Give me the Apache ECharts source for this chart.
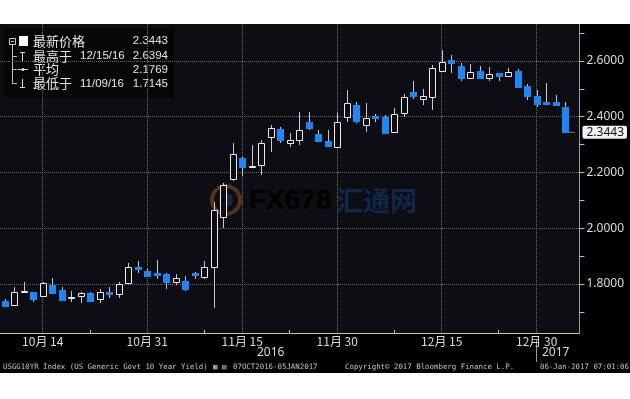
<!DOCTYPE html>
<html><head><meta charset="utf-8">
<script src="https://cdn.jsdelivr.net/npm/echarts@6/dist/echarts.min.js"></script>
<style>html,body{margin:0;padding:0;background:#fff}#c{width:630px;height:399px}</style>
</head><body><div id="c"></div>
<script>
// ---- data ----
const dates = ['2016-10-07','2016-10-11','2016-10-12','2016-10-13','2016-10-14','2016-10-17','2016-10-18','2016-10-19','2016-10-20','2016-10-21',
  '2016-10-24','2016-10-25','2016-10-26','2016-10-27','2016-10-28','2016-10-31','2016-11-01','2016-11-02','2016-11-03','2016-11-04',
  '2016-11-07','2016-11-08','2016-11-09','2016-11-10','2016-11-14','2016-11-15','2016-11-16','2016-11-17','2016-11-18','2016-11-21',
  '2016-11-22','2016-11-23','2016-11-25','2016-11-28','2016-11-29','2016-11-30','2016-12-01','2016-12-02','2016-12-05','2016-12-06',
  '2016-12-07','2016-12-08','2016-12-09','2016-12-12','2016-12-13','2016-12-14','2016-12-15','2016-12-16','2016-12-19','2016-12-20',
  '2016-12-21','2016-12-22','2016-12-23','2016-12-27','2016-12-28','2016-12-29','2016-12-30','2017-01-03','2017-01-04','2017-01-05'];
const opens = [1.740,1.725,1.772,1.771,1.757,1.796,1.778,1.752,1.757,1.768,
  1.746,1.770,1.764,1.804,1.861,1.847,1.841,1.836,1.807,1.811,
  1.838,1.825,1.861,2.040,2.177,2.252,2.222,2.227,2.327,2.356,
  2.306,2.317,2.381,2.338,2.313,2.291,2.399,2.442,2.370,2.403,
  2.399,2.345,2.413,2.489,2.464,2.471,2.564,2.603,2.582,2.539,
  2.564,2.539,2.557,2.546,2.564,2.510,2.474,2.453,2.453,2.435];
const closes = [1.722,1.771,1.775,1.746,1.804,1.768,1.743,1.754,1.768,1.739,
  1.771,1.767,1.800,1.861,1.854,1.829,1.836,1.807,1.821,1.782,
  1.835,1.861,2.065,2.155,2.266,2.220,2.225,2.306,2.360,2.317,
  2.317,2.352,2.360,2.313,2.295,2.381,2.449,2.385,2.396,2.399,
  2.342,2.410,2.471,2.474,2.474,2.575,2.596,2.593,2.539,2.561,
  2.539,2.553,2.546,2.561,2.507,2.474,2.446,2.449,2.442,2.3443];
const lows = [1.716,1.722,1.768,1.735,1.754,1.765,1.740,1.735,1.732,1.736,
  1.732,1.750,1.750,1.800,1.839,1.826,1.818,1.782,1.796,1.775,
  1.818,1.818,1.7145,2.001,2.170,2.187,2.216,2.191,2.274,2.306,
  2.291,2.299,2.352,2.309,2.291,2.288,2.381,2.378,2.345,2.381,
  2.340,2.342,2.399,2.464,2.442,2.424,2.560,2.557,2.528,2.535,
  2.535,2.528,2.528,2.543,2.503,2.460,2.435,2.442,2.440,2.3443];
const highs = [1.746,1.789,1.807,1.773,1.806,1.821,1.789,1.775,1.771,1.771,
  1.782,1.789,1.807,1.875,1.882,1.855,1.886,1.839,1.836,1.829,
  1.843,1.882,2.094,2.162,2.306,2.255,2.299,2.317,2.370,2.363,
  2.342,2.417,2.417,2.352,2.352,2.413,2.496,2.453,2.449,2.410,
  2.406,2.431,2.482,2.528,2.500,2.586,2.6394,2.621,2.593,2.589,
  2.582,2.578,2.558,2.575,2.571,2.517,2.496,2.521,2.478,2.453];
const xTickIdx = [4,15,25,35,46,56];
const xTickLabels = ['10月 14','10月 31','11月 15','11月 30','12月 15','12月 30'];
const xSmallTickIdx = [9,21,30,41,52];
const yearIdx = [28,58];
const yearLabels = ['2016','2017'];
const yearSepIdx = 56;
const yTicks = [1.8,2.0,2.2,2.4,2.6];
const yMinorTicks = [1.7,1.8,1.9,2.0,2.1,2.2,2.3,2.4,2.5,2.6,2.7];
const yMin = 1.6242, yMax = 2.7327;
const legendRows = [
  ['最新价格','', '2.3443'],
  ['最高于','12/15/16','2.6394'],
  ['平均','', '2.1769'],
  ['最低于','11/09/16','1.7145']
];
const footer = ['USGG10YR Index (US Generic Govt 10 Year Yield)','07OCT2016-05JAN2017','Copyright\u00a9 2017 Bloomberg Finance L.P.','06-Jan-2017 07:01:06'];

// ---- chart ----
const lastIdx = dates.length - 1;
const lastClose = closes[lastIdx];
const cats = dates.concat(['']);
const ohlc = dates.map((d,i)=>[i, opens[i], closes[i], lows[i], highs[i]]);
const BLUE = '#1f86f5';
const CJK = '"Noto Sans CJK SC","Noto Sans",sans-serif';
const LAT = '"Liberation Sans","Noto Sans",sans-serif';

const chart = echarts.init(document.getElementById('c'), null, {renderer:'canvas'});

const legendEls = [];
legendEls.push({type:'rect', shape:{x:4,y:28,width:170,height:70}, style:{fill:'#060609'}});
legendEls.push({type:'line', shape:{x1:12.5,y1:44,x2:12.5,y2:84}, style:{stroke:'#bbb',lineWidth:1}});
legendEls.push({type:'rect', shape:{x:9.5,y:38.5,width:6,height:6}, style:{fill:'#060609',stroke:'#ccc',lineWidth:1}});
legendEls.push({type:'line', shape:{x1:11,y1:41.5,x2:14,y2:41.5}, style:{stroke:'#ccc',lineWidth:1}});
legendEls.push({type:'rect', shape:{x:19,y:36,width:9,height:10}, style:{fill:'#fff'}});
[56.5,69.5,83.5].forEach(y=>legendEls.push({type:'line', shape:{x1:12.5,y1:y,x2:17,y2:y}, style:{stroke:'#bbb',lineWidth:1}}));
legendEls.push({type:'line', shape:{x1:22.5,y1:52,x2:22.5,y2:61}, style:{stroke:'#ddd',lineWidth:1}});
legendEls.push({type:'line', shape:{x1:20,y1:52.5,x2:25,y2:52.5}, style:{stroke:'#ddd',lineWidth:1}});
legendEls.push({type:'line', shape:{x1:18,y1:69.5,x2:28,y2:69.5}, style:{stroke:'#ddd',lineWidth:1}});
legendEls.push({type:'circle', shape:{cx:23,cy:69.5,r:1.6}, style:{fill:'#ddd'}});
legendEls.push({type:'line', shape:{x1:22.5,y1:79,x2:22.5,y2:88}, style:{stroke:'#ddd',lineWidth:1}});
legendEls.push({type:'line', shape:{x1:20,y1:87.5,x2:25,y2:87.5}, style:{stroke:'#ddd',lineWidth:1}});
const rowY = [41,56,69.5,83.5];
legendRows.forEach((r,k)=>{
  legendEls.push({type:'text', x:33, y:rowY[k], style:{text:r[0], fill:'#e6e6e6', font:'13px '+CJK, verticalAlign:'middle'}});
  if (r[1]) legendEls.push({type:'text', x:80, y:rowY[k], style:{text:r[1], fill:'#e6e6e6', font:'11.5px '+LAT, verticalAlign:'middle'}});
  legendEls.push({type:'text', x:168, y:rowY[k], style:{text:r[2], fill:'#e6e6e6', font:'11.5px '+LAT, align:'right', verticalAlign:'middle'}});
});

const watermark = [
  {type:'circle', shape:{cx:226,cy:200,r:14}, style:{fill:'none', stroke:'#58311a', lineWidth:4}, z:1},
  {type:'circle', shape:{cx:226,cy:200,r:7}, style:{fill:'#152740'}, z:1},
  {type:'text', x:249, y:201, style:{text:'FX678', font:'bold 28px "Liberation Sans",sans-serif', verticalAlign:'middle',
     fill:new echarts.graphic.LinearGradient(0,0,1,0,[{offset:0,color:'#5c4820'},{offset:1,color:'#66281a'}])}, z:1},
  {type:'text', x:336, y:201, style:{text:'汇通网', font:'bold 27px '+CJK, verticalAlign:'middle', fill:'#12264a'}, z:1}
];

const monoFont = '7.4px "DejaVu Sans Mono",monospace';
const footerEls = [
  {type:'text', x:3, y:367, style:{text:footer[0], fill:'#c4c4c4', font:monoFont, verticalAlign:'middle'}},
  {type:'text', x:213, y:367, style:{text:'▦ ▤', fill:'#c4c4c4', font:monoFont, verticalAlign:'middle'}},
  {type:'text', x:233, y:367, style:{text:footer[1], fill:'#c4c4c4', font:monoFont, verticalAlign:'middle'}},
  {type:'text', x:345, y:367, style:{text:footer[2], fill:'#c4c4c4', font:monoFont, verticalAlign:'middle'}},
  {type:'text', x:540, y:367, style:{text:footer[3], fill:'#c4c4c4', font:monoFont, verticalAlign:'middle'}}
];

const option = {
  animation:false,
  backgroundColor:'#000',
  grid:{left:-4, right:45, top:24, bottom:66, show:true, backgroundColor:'#0d0e14', borderWidth:0},
  xAxis:[{
    type:'category', data:cats, boundaryGap:true,
    axisLine:{lineStyle:{color:'#bfbfbf', width:1}},
    axisTick:{show:true, inside:true, length:3, alignWithLabel:true, interval:(i)=>xSmallTickIdx.includes(i), lineStyle:{color:'#cfcfcf'}},
    axisLabel:{interval:(i)=>xTickIdx.includes(i), formatter:(v,i)=>xTickLabels[xTickIdx.indexOf(i)] || '', color:'#dcdcdc', fontSize:12, fontFamily:CJK, margin:1, lineHeight:14},
    splitLine:{show:false}
  },{
    type:'category', data:cats, boundaryGap:true, position:'bottom', offset:7,
    axisLine:{show:false},
    axisTick:{show:true, length:22, alignWithLabel:true, interval:(i)=>i===yearSepIdx, lineStyle:{color:'#9a9a9a'}},
    axisLabel:{interval:(i)=>yearIdx.includes(i), formatter:(v,i)=>yearLabels[yearIdx.indexOf(i)] || '', color:'#dcdcdc', fontSize:12, fontFamily:'"Noto Sans",sans-serif', margin:7},
    splitLine:{show:false}
  }],
  yAxis:[{
    type:'value', position:'right', min:yMin, max:yMax, scale:true,
    axisLine:{show:true, lineStyle:{color:'#9a9a9a'}},
    axisTick:{show:true, length:5, customValues:yMinorTicks, lineStyle:{color:'#bdbdbd', width:1}},
    axisLabel:{customValues:yTicks, formatter:(v)=>v.toFixed(4), color:'#dcdcdc', fontSize:12, fontFamily:'"Noto Sans",sans-serif', margin:7},
    splitLine:{show:false}
  },{
    type:'value', position:'right', min:yMin, max:yMax, scale:true,
    axisLine:{show:false}, axisTick:{show:false}, splitLine:{show:false},
    axisLabel:{customValues:[lastClose], formatter:(v)=>v.toFixed(4), color:'#111', backgroundColor:'#f2f2f2', padding:[1,3,0,4], borderRadius:2, fontSize:12, fontFamily:'"Noto Sans",sans-serif', margin:3}
  }],
  series:[{
    type:'line', xAxisIndex:0, yAxisIndex:0, z:2, silent:true, showSymbol:false,
    data:[[lastIdx, lastClose],[lastIdx+1, lastClose]],
    lineStyle:{color:'#8c7c6c', width:1},
    markLine:{silent:true, symbol:['none','none'], label:{show:false}, animation:false,
      lineStyle:{type:'dotted', color:'#6c6c72', width:1},
      data:[...xTickIdx.map(i=>({xAxis:dates[i]})), ...yTicks.map(v=>({yAxis:v}))]}
  },{
    type:'custom', xAxisIndex:0, yAxisIndex:0, z:10,
    data:ohlc,
    encode:{x:0, y:[1,2,3,4]},
    renderItem:(params, api)=>{
      const i = api.value(0), o = api.value(1), c = api.value(2), l = api.value(3), h = api.value(4);
      const pO = api.coord([i,o]), pC = api.coord([i,c]), pL = api.coord([i,l]), pH = api.coord([i,h]);
      const cx = Math.round(pO[0]);
      const up = c > o;
      const top = Math.round(Math.min(pO[1], pC[1]));
      const bot = Math.round(Math.max(pO[1], pC[1]));
      const children = [{type:'line', shape:{x1:cx+0.5, y1:Math.round(pH[1]), x2:cx+0.5, y2:Math.round(pL[1])}, style:{stroke:'#c8c8c8', lineWidth:1}}];
      if (up) {
        children.push({type:'rect', shape:{x:cx-3+0.5, y:top+0.5, width:6, height:Math.max(bot-top,1)}, style:{fill:'#0d0e14', stroke:'#ececec', lineWidth:1}});
      } else {
        const hh = Math.max(bot-top, 2);
        children.push({type:'rect', shape:{x:cx-3, y:top, width:7, height:hh+1}, style:{fill:BLUE}});
      }
      return {type:'group', children};
    }
  }],
  graphic:[
    ...watermark,
    {type:'group', z:50, children:legendEls},
    ...footerEls,
    {type:'rect', shape:{x:0,y:0,width:630,height:24}, style:{fill:'#fff'}, z:100},
    {type:'rect', shape:{x:0,y:373,width:630,height:26}, style:{fill:'#fff'}, z:100}
  ]
};
chart.setOption(option);
</script></body></html>
